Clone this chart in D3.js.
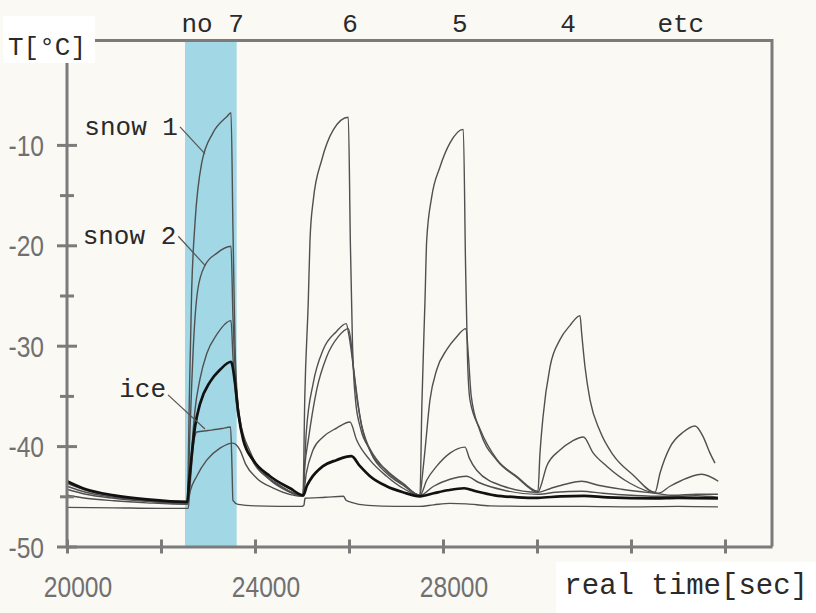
<!DOCTYPE html>
<meta charset="utf-8">
<style>
  body { margin: 0; background: #fbf9f4; }
  svg { display: block; }
</style>
<svg width="816" height="613"></svg>
<script src="https://cdn.jsdelivr.net/npm/d3@7"></script>
<script>
    // readings [time s, temperature degC]
    var snow1 = [[20000,-43.7],[20400,-44.4],[21000,-45.0],[21700,-45.35],[22560,-45.6],
        [22600,-36],[22653,-24.4],[22723,-17.8],[22866,-11.8],[23106,-8.8],[23398,-7.2],[23490,-6.8],
        [23530,-18],[23575,-30],[23640,-36],[23717,-38.7],[24036,-42.0],[24462,-43.7],[25020,-44.9],
        [25060,-35],[25134,-25.5],[25170,-19.5],[25240,-15.5],[25420,-11.5],[25666,-8.5],[25985,-7.25],
        [26030,-20],[26075,-30],[26140,-35.5],[26250,-38.3],[26447,-40.3],[26800,-42.5],[27150,-43.8],[27510,-44.9],
        [27550,-36],[27617,-25.5],[27653,-19.5],[27759,-15.2],[27936,-12.2],[28149,-9.8],[28432,-8.45],
        [28480,-22],[28520,-31],[28574,-35.4],[28787,-38.3],[29142,-41.3],[29568,-43.0],[30021,-44.5],
        [30060,-41],[30128,-37.1],[30277,-32.1],[30489,-29.4],[30700,-28],[30915,-27.0],
        [30951,-28.8],[31021,-32.1],[31128,-35.4],[31340,-38.5],[31623,-40.9],[32049,-42.9],[32511,-44.6],
        [32617,-42.7],[32830,-40.1],[33114,-38.6],[33362,-38.0],[33539,-39.1],[33681,-40.7],[33787,-41.7]];
    var snow2 = [[20000,-44.0],[20400,-44.6],[21000,-45.1],[21700,-45.45],[22560,-45.7],
        [22620,-38],[22700,-29],[22780,-24.5],[22936,-22.0],[23185,-20.8],[23490,-20.1],
        [23530,-27],[23585,-33],[23680,-37.3],[23900,-40.6],[24300,-43.2],[24700,-44.4],[25020,-45.0],
        [25060,-41.5],[25090,-38.7],[25240,-33.7],[25450,-30.4],[25730,-28.6],[25940,-27.8],
        [26000,-29],[26092,-32.1],[26234,-37.1],[26447,-40.4],[26800,-42.4],[27150,-43.7],[27510,-44.9],
        [27560,-43],[27617,-40.4],[27723,-35.4],[27866,-32.4],[28079,-30.4],[28292,-29.1],[28490,-28.3],
        [28540,-31],[28600,-35],[28787,-38.5],[29142,-41.4],[29568,-43.1],[30021,-44.6],
        [30080,-44.0],[30206,-42.0],[30489,-40.4],[30750,-39.5],[30985,-39.1],
        [31198,-40.7],[31483,-42.0],[31978,-43.7],[32580,-44.7],
        [32830,-44.0],[33185,-43.2],[33504,-42.8],[33858,-43.5]];
    var probeA = [[20000,-44.3],[20400,-44.8],[21000,-45.2],[21700,-45.5],[22560,-45.75],
        [22620,-43],[22653,-40.4],[22723,-36.4],[22830,-33.3],[22972,-30.8],[23185,-28.9],[23490,-27.5],
        [23530,-31],[23600,-35.5],[23700,-38.3],[23900,-41],[24300,-43.3],[24700,-44.5],[25020,-45.0],
        [25060,-42],[25134,-39.4],[25312,-34.4],[25525,-31.1],[25772,-29.1],[25985,-28.3],
        [26040,-29.5],[26110,-33],[26260,-37.8],[26480,-40.8],[26800,-42.7],[27150,-43.9],[27510,-44.9],
        [27653,-43.4],[27866,-42.0],[28149,-40.7],[28468,-40.1],
        [28560,-41.2],[28717,-42.4],[29283,-44.0],[30021,-44.6],
        [30300,-44.2],[30600,-43.8],[30951,-43.5],[31300,-43.9],[31800,-44.3],[32511,-44.7],
        [32900,-44.9],[33400,-44.8],[33850,-44.8]];
    var probeB = [[20000,-43.5],[20400,-44.3],[21000,-44.9],[21700,-45.3],[22560,-45.55],
        [22590,-44],[22640,-41.5],[22723,-38.1],[22830,-35.8],[23043,-33.6],[23255,-32.4],[23490,-31.6],
        [23574,-33.7],[23645,-36.7],[23751,-39.4],[23964,-41.4],[24319,-43.0],[24745,-44.2],[25028,-44.9],
        [25100,-44.0],[25170,-43.4],[25447,-42.0],[25730,-41.4],[26050,-41.0],
        [26234,-42.0],[26447,-43.0],[26800,-44.0],[27150,-44.6],[27510,-45.0],
        [27800,-44.7],[28100,-44.4],[28450,-44.2],[28700,-44.5],[29100,-44.9],[29600,-45.1],
        [30021,-45.15],[30500,-45.0],[31000,-44.95],[31500,-45.1],[32500,-45.2],[33000,-45.15],[33850,-45.2]];
    var probeC = [[20000,-44.9],[20400,-45.2],[21000,-45.45],[21700,-45.65],[22560,-45.8],
        [22620,-44.5],[22760,-43.0],[22972,-41.4],[23255,-40.2],[23530,-39.7],
        [23681,-40.4],[23800,-41.8],[24036,-43.2],[24400,-44.2],[25020,-45.0],
        [25092,-42.7],[25234,-40.4],[25447,-39.1],[25738,-38.2],[26021,-37.6],
        [26163,-39.4],[26447,-41.4],[26800,-43.0],[27150,-44.2],[27510,-44.9],
        [27800,-44.0],[28150,-43.3],[28500,-43.0],[28750,-43.6],[29300,-44.4],[30021,-44.8],
        [30400,-44.6],[30950,-44.5],[31400,-44.7],[32000,-44.9],[32511,-45.0],
        [33000,-45.0],[33400,-44.95],[33850,-45.1]];
    var ice = [[20000,-46.1],[21000,-46.15],[22000,-46.2],[22580,-46.2],
        [22617,-44],[22700,-39.5],[22760,-38.6],[23000,-38.45],[23300,-38.25],[23480,-38.1],
        [23510,-42],[23530,-45.4],[23640,-45.8],[24000,-45.95],[25000,-46.0],
        [25040,-45.9],[25065,-45.2],[25500,-45.1],[25880,-45.0],
        [25940,-45.4],[26050,-45.6],[26400,-45.9],[27000,-46.0],[27500,-46.0],
        [27800,-45.85],[28150,-45.7],[28500,-45.75],[29000,-45.95],[30000,-46.0],
        [31000,-46.0],[32000,-46.05],[33000,-46.0],[33850,-46.05]];

    var heatBand = [22510, 23610];
    var cycleLabels = ['no 7', '6', '5', '4', 'etc'];
    var cycleTimes = [23100, 26020, 28360, 30660, 33060];
    var xTicks = [20000, 22000, 24000, 26000, 28000, 30000, 32000, 34000];
    var xTickLabels = [20000, 24000, 28000];
    var yMajor = [-50, -40, -30, -20, -10];
    var yMinor = [-45, -35, -25, -15];
    // callouts: label, leader start, leader end (time, temp)
    var callouts = [
        {text: 'snow 1', from: [22404, -8.2], to: [22936, -10.9]},
        {text: 'snow 2', from: [22368, -19.1], to: [22936, -22.0]},
        {text: 'ice', from: [22149, -34.9], to: [22936, -38.3]}
    ];

    var svg = d3.select('svg');
    var grey = '#7b7b7b';
    var mono = '"Liberation Mono", "Courier New", monospace';
    var sans = '"Liberation Sans", Arial, sans-serif';

    svg.append('rect').attr('width', 816).attr('height', 613).attr('fill', '#fbf9f4');

    var x = d3.scaleLinear().domain([20000, 35000]).range([67, 772]);
    var y = d3.scaleLinear().domain([-50, 0]).range([546.5, 44.5]);
    var frameTop = y(0.4);

    // heating period
    svg.append('rect')
        .attr('x', x(heatBand[0]))
        .attr('width', x(heatBand[1]) - x(heatBand[0]))
        .attr('y', frameTop)
        .attr('height', y(-50) - frameTop)
        .attr('fill', '#a2d8e6');

    var line = d3.line()
        .x(function (d) { return x(d[0]); })
        .y(function (d) { return y(d[1]); })
        .curve(d3.curveMonotoneX);

    var series = [
        {data: ice, w: 1.4, c: '#505050'},
        {data: probeC, w: 1.4, c: '#505050'},
        {data: probeA, w: 1.4, c: '#505050'},
        {data: snow2, w: 1.4, c: '#505050'},
        {data: snow1, w: 1.4, c: '#505050'},
        {data: probeB, w: 2.7, c: '#111'}
    ];
    svg.append('g').selectAll('path')
        .data(series)
        .enter().append('path')
        .attr('d', function (d) { return line(d.data); })
        .attr('fill', 'none')
        .attr('stroke', function (d) { return d.c; })
        .attr('stroke-width', function (d) { return d.w; })
        .attr('stroke-linejoin', 'round');

    // callout leaders
    svg.append('g').selectAll('line')
        .data(callouts)
        .enter().append('line')
        .attr('x1', function (d) { return x(d.from[0]); })
        .attr('y1', function (d) { return y(d.from[1]); })
        .attr('x2', function (d) { return x(d.to[0]); })
        .attr('y2', function (d) { return y(d.to[1]); })
        .attr('stroke', '#555')
        .attr('stroke-width', 1.2);
    svg.append('g').selectAll('text')
        .data(callouts)
        .enter().append('text')
        .attr('x', function (d) { return x(d.from[0]) - 2; })
        .attr('y', function (d) { return y(d.from[1]) + (d.text === 'ice' ? 2 : 8); })
        .attr('text-anchor', 'end')
        .attr('font-family', mono)
        .attr('font-size', 26)
        .attr('fill', '#2a2a2a')
        .text(function (d) { return d.text; });

    // frame
    svg.append('path')
        .attr('d', 'M' + x.range()[0] + ',' + y(-50) + 'V' + frameTop + 'H' + x.range()[1] + 'V' + y(-50))
        .attr('fill', 'none')
        .attr('stroke', grey)
        .attr('stroke-width', 3);

    // x axis
    var gx = svg.append('g')
        .attr('transform', 'translate(0,' + y(-50) + ')')
        .call(d3.axisBottom(x).tickValues(xTicks).tickSize(7).tickSizeOuter(0));
    gx.select('.domain').attr('stroke', grey).attr('stroke-width', 3);
    gx.selectAll('.tick line').attr('y1', -7).attr('stroke', grey).attr('stroke-width', 3);
    gx.selectAll('.tick text').remove();
    svg.append('g').selectAll('text')
        .data(xTickLabels)
        .enter().append('text')
        .attr('transform', function (d) { return 'translate(' + (x(d) + 11) + ',597) scale(0.82,1)'; })
        .attr('text-anchor', 'middle')
        .attr('font-family', sans)
        .attr('font-size', 30)
        .attr('fill', '#707070')
        .text(function (d) { return d; });

    // y axis
    var gy = svg.append('g')
        .attr('transform', 'translate(' + x(20000) + ',0)')
        .call(d3.axisLeft(y).tickValues(yMajor.concat(yMinor)).tickSize(10).tickSizeOuter(0));
    gy.select('.domain').remove();
    gy.selectAll('.tick line')
        .attr('x1', function (d) { return yMajor.indexOf(d) >= 0 ? 10 : 7; })
        .attr('x2', function (d) { return yMajor.indexOf(d) >= 0 ? -10 : -7; })
        .attr('stroke', grey).attr('stroke-width', 3);
    gy.selectAll('.tick text').remove();
    svg.append('g').selectAll('text')
        .data(yMajor)
        .enter().append('text')
        .attr('transform', function (d) { return 'translate(44,' + (y(d) + 11) + ') scale(0.82,1)'; })
        .attr('text-anchor', 'end')
        .attr('font-family', sans)
        .attr('font-size', 30)
        .attr('fill', '#707070')
        .text(function (d) { return d; });

    // cycle labels along the top
    svg.append('g').selectAll('text')
        .data(cycleLabels)
        .enter().append('text')
        .attr('x', function (d, i) { return x(cycleTimes[i]); })
        .attr('y', 32)
        .attr('text-anchor', 'middle')
        .attr('font-family', mono)
        .attr('font-size', 26)
        .attr('fill', '#2a2a2a')
        .text(function (d) { return d; });

    // axis titles on white boxes
    svg.append('rect').attr('x', 3).attr('y', 16).attr('width', 92).attr('height', 47).attr('fill', '#fff');
    svg.append('text')
        .attr('x', 8).attr('y', 55)
        .attr('font-family', mono)
        .attr('font-size', 26)
        .attr('fill', '#2a2a2a')
        .text('T[°C]');
    svg.append('rect').attr('x', 556).attr('y', 562).attr('width', 260).attr('height', 51).attr('fill', '#fff');
    svg.append('text')
        .attr('x', 808).attr('y', 594)
        .attr('text-anchor', 'end')
        .attr('font-family', mono)
        .attr('font-size', 29)
        .attr('fill', '#2a2a2a')
        .text('real time[sec]');
</script>
